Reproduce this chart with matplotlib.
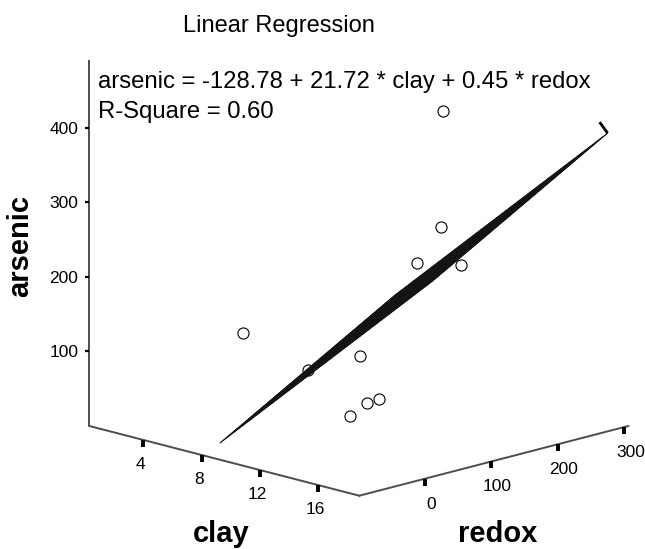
import numpy as np
import matplotlib
matplotlib.use("Agg")
import matplotlib.pyplot as plt
from matplotlib.patches import Polygon

clay = [11, 13, 9, 15, 3, 8, 7, 10, 11, 9]
redox = [198, 151, 203, 137, 73, 139, 83, 106, 102, 102]
arsenic = [409, 273, 193, 236, 97, 77, 66, 31, 42, 9]

# fitted model
intercept, b_clay, b_redox = -128.78, 21.72, 0.45
r_square = 0.60

clay_ticks = [4, 8, 12, 16]
redox_ticks = [0, 100, 200, 300]
arsenic_ticks = [100, 200, 300, 400]

clay_lim = (0.3, 18.8)
redox_lim = (-99, 306)
arsenic_lim = (-1.6, 492)
plane_clay = (5.2, 17.2)
plane_redox = (-10, 310)

# box layout (pixels): corner at min clay / min redox / min arsenic
origin = np.array([89.3, 426.0])
clay_vec = np.array([270.0, 69.7])
redox_vec = np.array([269.0, -69.7])
ars_vec = np.array([0.0, -366.0])

W, H = 645, 549
plt.rcParams["font.family"] = ["Liberation Sans", "DejaVu Sans"]


def proj(c, r, a):
	c = np.asarray(c, float)
	r = np.asarray(r, float)
	a = np.asarray(a, float)
	fc = (c - clay_lim[0]) / (clay_lim[1] - clay_lim[0])
	fr = (r - redox_lim[0]) / (redox_lim[1] - redox_lim[0])
	fa = (a - arsenic_lim[0]) / (arsenic_lim[1] - arsenic_lim[0])
	x = origin[0] + fc * clay_vec[0] + fr * redox_vec[0] + fa * ars_vec[0]
	y = origin[1] + fc * clay_vec[1] + fr * redox_vec[1] + fa * ars_vec[1]
	return x, y


def fit(c, r):
	return intercept + b_clay * np.asarray(c, float) + b_redox * np.asarray(r, float)


fig = plt.figure(figsize=(W / 100, H / 100), dpi=100)
ax = fig.add_axes([0, 0, 1, 1])
ax.set_xlim(0, W)
ax.set_ylim(H, 0)
ax.axis("off")

axis_col = "#4d4d4d"
c0, c1 = clay_lim
r0, r1 = redox_lim
a0, a1 = arsenic_lim

# box axes
x, y = proj([c0, c0], [r0, r0], [a0, a1])
ax.plot(x, y, color=axis_col, lw=1.4, solid_capstyle="butt")
x, y = proj([c0, c1], [r0, r0], [a0, a0])
ax.plot(x, y, color=axis_col, lw=1.4)
x, y = proj([c1, c1], [r0, r1], [a0, a0])
ax.plot(x, y, color=axis_col, lw=1.4)

# arsenic ticks
for t in arsenic_ticks:
	x, y = proj(c0, r0, t)
	ax.plot([x - 4, x], [y, y], color="black", lw=1.6, solid_capstyle="butt")
	ax.text(x - 11, y, str(t), ha="right", va="center_baseline", fontsize=12.5)

# clay ticks
for t in clay_ticks:
	x, y = proj(t, r0, a0)
	ax.plot([x, x], [y, y + 7], color="black", lw=2.8, solid_capstyle="butt")
	ax.text(x - 3, y + 23, str(t), ha="center", va="center_baseline", fontsize=12.5)

# redox ticks
for t in redox_ticks:
	x, y = proj(c1, t, a0)
	ax.plot([x, x], [y, y + 7], color="black", lw=2.8, solid_capstyle="butt")
	ax.text(x + 6, y + 24, str(t), ha="center", va="center_baseline", fontsize=12.5)

# regression plane, seen almost edge on
pc = np.linspace(plane_clay[0], plane_clay[1], 30)
pr = np.linspace(plane_redox[0], plane_redox[1], 30)
cc = [plane_clay[0], plane_clay[1], plane_clay[1], plane_clay[0]]
rr = [plane_redox[0], plane_redox[0], plane_redox[1], plane_redox[1]]
px, py = proj(cc, rr, fit(cc, rr))
ax.add_patch(Polygon(np.column_stack([px, py]), closed=True, facecolor="#0d0d0d",
	edgecolor="black", lw=0.6, zorder=3))
for v in pc:
	x, y = proj(np.full_like(pr, v), pr, fit(v, pr))
	ax.plot(x, y, color="#262626", lw=0.3, zorder=3)
for v in pr:
	x, y = proj(pc, np.full_like(pc, v), fit(pc, v))
	ax.plot(x, y, color="#111111", lw=0.3, zorder=3)
# far corner edge
x, y = proj(plane_clay[1], plane_redox[1], fit(plane_clay[1], plane_redox[1]))
ax.plot([x, x - 8], [y, y - 11], color="black", lw=2.0, solid_capstyle="butt", zorder=3)

# observations: those above the plane sit behind it in this view
resid = np.array(arsenic) - fit(clay, redox)
x, y = proj(clay, redox, arsenic)
back = resid > 0
ax.plot(x[back], y[back], "o", ms=8, mfc="white", mec="black", mew=0.8, zorder=2)
ax.plot(x[~back], y[~back], "o", ms=8, mfc="white", mec="black", mew=0.8, zorder=4)

# text
ax.text(279, 32, "Linear Regression", ha="center", va="baseline", fontsize=17)
eq = "arsenic = %.2f + %.2f * clay + %.2f * redox" % (intercept, b_clay, b_redox)
ax.text(98, 88, eq, ha="left", va="baseline", fontsize=17.2)
ax.text(98, 118, "R-Square = %.2f" % r_square, ha="left", va="baseline", fontsize=17.2)

ax.text(20, 246, "arsenic", rotation=90, ha="center", va="center", fontsize=21,
	fontweight="bold")
ax.text(221, 542, "clay", ha="center", va="baseline", fontsize=21, fontweight="bold")
ax.text(498, 542, "redox", ha="center", va="baseline", fontsize=21, fontweight="bold")

fig.savefig("out.png", dpi=100)
